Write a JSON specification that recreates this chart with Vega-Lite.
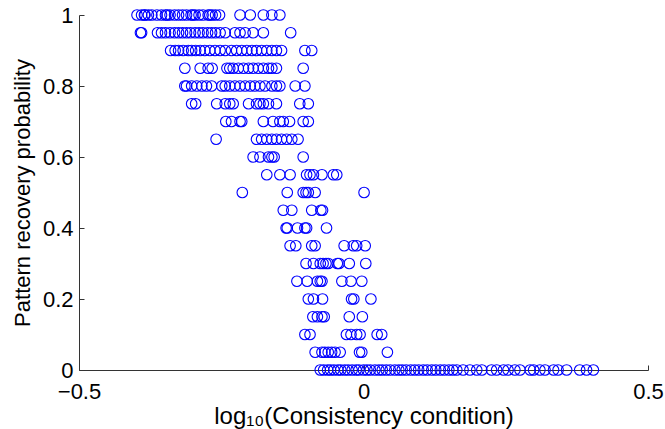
{
  "$schema": "https://vega.github.io/schema/vega-lite/v6.json",
  "width": 569,
  "height": 355,
  "autosize": {"type": "none"},
  "padding": {"left": 79, "top": 15, "right": 17, "bottom": 59},
  "background": "white",
  "config": {"view": {"stroke": null}, "font": "Liberation Sans"},
  "data": {"values": [
    {"x":-0.398,"y":1},{"x":-0.390,"y":1},{"x":-0.385,"y":1},{"x":-0.384,"y":1},{"x":-0.378,"y":1},{"x":-0.372,"y":1},{"x":-0.363,"y":1},{"x":-0.355,"y":1},{"x":-0.348,"y":1},{"x":-0.345,"y":1},{"x":-0.340,"y":1},{"x":-0.332,"y":1},{"x":-0.325,"y":1},{"x":-0.318,"y":1},{"x":-0.311,"y":1},{"x":-0.303,"y":1},{"x":-0.300,"y":1},{"x":-0.296,"y":1},{"x":-0.289,"y":1},{"x":-0.282,"y":1},{"x":-0.273,"y":1},{"x":-0.270,"y":1},{"x":-0.266,"y":1},{"x":-0.260,"y":1},{"x":-0.253,"y":1},{"x":-0.217,"y":1},{"x":-0.199,"y":1},{"x":-0.176,"y":1},{"x":-0.161,"y":1},{"x":-0.147,"y":1},
    {"x":-0.392,"y":0.95},{"x":-0.390,"y":0.95},{"x":-0.362,"y":0.95},{"x":-0.355,"y":0.95},{"x":-0.348,"y":0.95},{"x":-0.340,"y":0.95},{"x":-0.332,"y":0.95},{"x":-0.325,"y":0.95},{"x":-0.318,"y":0.95},{"x":-0.311,"y":0.95},{"x":-0.304,"y":0.95},{"x":-0.296,"y":0.95},{"x":-0.289,"y":0.95},{"x":-0.282,"y":0.95},{"x":-0.274,"y":0.95},{"x":-0.267,"y":0.95},{"x":-0.260,"y":0.95},{"x":-0.252,"y":0.95},{"x":-0.243,"y":0.95},{"x":-0.226,"y":0.95},{"x":-0.217,"y":0.95},{"x":-0.208,"y":0.95},{"x":-0.194,"y":0.95},{"x":-0.176,"y":0.95},{"x":-0.128,"y":0.95},
    {"x":-0.339,"y":0.9},{"x":-0.331,"y":0.9},{"x":-0.325,"y":0.9},{"x":-0.317,"y":0.9},{"x":-0.308,"y":0.9},{"x":-0.302,"y":0.9},{"x":-0.295,"y":0.9},{"x":-0.287,"y":0.9},{"x":-0.279,"y":0.9},{"x":-0.270,"y":0.9},{"x":-0.261,"y":0.9},{"x":-0.252,"y":0.9},{"x":-0.243,"y":0.9},{"x":-0.232,"y":0.9},{"x":-0.223,"y":0.9},{"x":-0.214,"y":0.9},{"x":-0.205,"y":0.9},{"x":-0.196,"y":0.9},{"x":-0.188,"y":0.9},{"x":-0.179,"y":0.9},{"x":-0.170,"y":0.9},{"x":-0.161,"y":0.9},{"x":-0.153,"y":0.9},{"x":-0.144,"y":0.9},{"x":-0.103,"y":0.9},{"x":-0.091,"y":0.9},
    {"x":-0.314,"y":0.85},{"x":-0.287,"y":0.85},{"x":-0.273,"y":0.85},{"x":-0.266,"y":0.85},{"x":-0.240,"y":0.85},{"x":-0.235,"y":0.85},{"x":-0.229,"y":0.85},{"x":-0.220,"y":0.85},{"x":-0.211,"y":0.85},{"x":-0.202,"y":0.85},{"x":-0.194,"y":0.85},{"x":-0.185,"y":0.85},{"x":-0.176,"y":0.85},{"x":-0.167,"y":0.85},{"x":-0.161,"y":0.85},{"x":-0.153,"y":0.85},{"x":-0.106,"y":0.85},
    {"x":-0.314,"y":0.8},{"x":-0.311,"y":0.8},{"x":-0.302,"y":0.8},{"x":-0.293,"y":0.8},{"x":-0.284,"y":0.8},{"x":-0.276,"y":0.8},{"x":-0.267,"y":0.8},{"x":-0.249,"y":0.8},{"x":-0.243,"y":0.8},{"x":-0.235,"y":0.8},{"x":-0.226,"y":0.8},{"x":-0.217,"y":0.8},{"x":-0.208,"y":0.8},{"x":-0.199,"y":0.8},{"x":-0.191,"y":0.8},{"x":-0.182,"y":0.8},{"x":-0.173,"y":0.8},{"x":-0.161,"y":0.8},{"x":-0.153,"y":0.8},{"x":-0.147,"y":0.8},{"x":-0.120,"y":0.8},{"x":-0.103,"y":0.8},
    {"x":-0.302,"y":0.75},{"x":-0.295,"y":0.75},{"x":-0.258,"y":0.75},{"x":-0.243,"y":0.75},{"x":-0.235,"y":0.75},{"x":-0.229,"y":0.75},{"x":-0.202,"y":0.75},{"x":-0.188,"y":0.75},{"x":-0.182,"y":0.75},{"x":-0.176,"y":0.75},{"x":-0.167,"y":0.75},{"x":-0.153,"y":0.75},{"x":-0.112,"y":0.75},{"x":-0.097,"y":0.75},
    {"x":-0.242,"y":0.7},{"x":-0.232,"y":0.7},{"x":-0.217,"y":0.7},{"x":-0.214,"y":0.7},{"x":-0.176,"y":0.7},{"x":-0.159,"y":0.7},{"x":-0.147,"y":0.7},{"x":-0.141,"y":0.7},{"x":-0.130,"y":0.7},{"x":-0.106,"y":0.7},{"x":-0.097,"y":0.7},
    {"x":-0.259,"y":0.65},{"x":-0.188,"y":0.65},{"x":-0.179,"y":0.65},{"x":-0.170,"y":0.65},{"x":-0.161,"y":0.65},{"x":-0.153,"y":0.65},{"x":-0.144,"y":0.65},{"x":-0.135,"y":0.65},{"x":-0.126,"y":0.65},{"x":-0.115,"y":0.65},
    {"x":-0.194,"y":0.6},{"x":-0.182,"y":0.6},{"x":-0.167,"y":0.6},{"x":-0.161,"y":0.6},{"x":-0.157,"y":0.6},{"x":-0.106,"y":0.6},
    {"x":-0.170,"y":0.55},{"x":-0.147,"y":0.55},{"x":-0.129,"y":0.55},{"x":-0.100,"y":0.55},{"x":-0.094,"y":0.55},{"x":-0.088,"y":0.55},{"x":-0.073,"y":0.55},{"x":-0.053,"y":0.55},{"x":-0.047,"y":0.55},
    {"x":-0.213,"y":0.5},{"x":-0.134,"y":0.5},{"x":-0.106,"y":0.5},{"x":-0.101,"y":0.5},{"x":-0.097,"y":0.5},{"x":-0.085,"y":0.5},{"x":0.001,"y":0.5},
    {"x":-0.141,"y":0.45},{"x":-0.126,"y":0.45},{"x":-0.091,"y":0.45},{"x":-0.075,"y":0.45},{"x":-0.072,"y":0.45},
    {"x":-0.136,"y":0.4},{"x":-0.134,"y":0.4},{"x":-0.116,"y":0.4},{"x":-0.103,"y":0.4},{"x":-0.100,"y":0.4},{"x":-0.065,"y":0.4},
    {"x":-0.129,"y":0.35},{"x":-0.119,"y":0.35},{"x":-0.091,"y":0.35},{"x":-0.085,"y":0.35},{"x":-0.034,"y":0.35},{"x":-0.018,"y":0.35},{"x":-0.012,"y":0.35},{"x":0.003,"y":0.35},
    {"x":-0.101,"y":0.3},{"x":-0.088,"y":0.3},{"x":-0.076,"y":0.3},{"x":-0.071,"y":0.3},{"x":-0.066,"y":0.3},{"x":-0.062,"y":0.3},{"x":-0.046,"y":0.3},{"x":-0.043,"y":0.3},{"x":-0.025,"y":0.3},{"x":0.004,"y":0.3},
    {"x":-0.117,"y":0.25},{"x":-0.099,"y":0.25},{"x":-0.081,"y":0.25},{"x":-0.076,"y":0.25},{"x":-0.073,"y":0.25},{"x":-0.038,"y":0.25},{"x":-0.022,"y":0.25},{"x":-0.003,"y":0.25},
    {"x":-0.097,"y":0.2},{"x":-0.088,"y":0.2},{"x":-0.072,"y":0.2},{"x":-0.021,"y":0.2},{"x":-0.017,"y":0.2},{"x":0.013,"y":0.2},
    {"x":-0.089,"y":0.15},{"x":-0.081,"y":0.15},{"x":-0.073,"y":0.15},{"x":-0.069,"y":0.15},{"x":-0.025,"y":0.15},{"x":-0.002,"y":0.15},
    {"x":-0.103,"y":0.1},{"x":-0.094,"y":0.1},{"x":-0.030,"y":0.1},{"x":-0.022,"y":0.1},{"x":-0.012,"y":0.1},{"x":-0.006,"y":0.1},{"x":0.024,"y":0.1},{"x":0.032,"y":0.1},
    {"x":-0.085,"y":0.05},{"x":-0.073,"y":0.05},{"x":-0.068,"y":0.05},{"x":-0.062,"y":0.05},{"x":-0.056,"y":0.05},{"x":-0.050,"y":0.05},{"x":-0.041,"y":0.05},{"x":-0.007,"y":0.05},{"x":-0.003,"y":0.05},{"x":0.042,"y":0.05},
    {"x":-0.076,"y":0},{"x":-0.070,"y":0},{"x":-0.063,"y":0},{"x":-0.058,"y":0},{"x":-0.052,"y":0},{"x":-0.045,"y":0},{"x":-0.040,"y":0},{"x":-0.033,"y":0},{"x":-0.027,"y":0},{"x":-0.020,"y":0},{"x":-0.013,"y":0},{"x":-0.008,"y":0},{"x":0.000,"y":0},{"x":0.006,"y":0},{"x":0.012,"y":0},{"x":0.020,"y":0},{"x":0.027,"y":0},{"x":0.033,"y":0},{"x":0.040,"y":0},{"x":0.047,"y":0},{"x":0.055,"y":0},{"x":0.062,"y":0},{"x":0.068,"y":0},{"x":0.075,"y":0},{"x":0.083,"y":0},{"x":0.090,"y":0},{"x":0.097,"y":0},{"x":0.105,"y":0},{"x":0.112,"y":0},{"x":0.120,"y":0},{"x":0.127,"y":0},{"x":0.135,"y":0},{"x":0.142,"y":0},{"x":0.150,"y":0},{"x":0.157,"y":0},{"x":0.164,"y":0},{"x":0.175,"y":0},{"x":0.187,"y":0},{"x":0.199,"y":0},{"x":0.208,"y":0},{"x":0.225,"y":0},{"x":0.234,"y":0},{"x":0.246,"y":0},{"x":0.254,"y":0},{"x":0.266,"y":0},{"x":0.275,"y":0},{"x":0.293,"y":0},{"x":0.299,"y":0},{"x":0.310,"y":0},{"x":0.319,"y":0},{"x":0.334,"y":0},{"x":0.342,"y":0},{"x":0.357,"y":0},{"x":0.380,"y":0},{"x":0.392,"y":0},{"x":0.404,"y":0}
  ]},
  "mark": {"type": "point", "shape": "circle", "filled": false, "stroke": "#0000ff", "strokeWidth": 1.1, "size": 112, "opacity": 1, "clip": false},
  "encoding": {
    "x": {
      "field": "x", "type": "quantitative",
      "scale": {"domain": [-0.5, 0.5], "nice": false, "zero": false},
      "axis": {
        "values": [-0.5, 0, 0.5], "format": "~g", "grid": false,
        "title": "log₁₀(Consistency condition)",
        "titleFont": "Liberation Sans", "titleFontSize": 24, "titleFontWeight": "normal", "titleColor": "black", "titlePadding": 2,
        "labelFont": "Liberation Sans", "labelFontSize": 22, "labelColor": "black", "labelPadding": 16,
        "tickSize": -5, "tickColor": "#333333", "domainColor": "#333333", "labelFlush": false
      }
    },
    "y": {
      "field": "y", "type": "quantitative",
      "scale": {"domain": [0, 1], "nice": false},
      "axis": {
        "values": [0, 0.2, 0.4, 0.6, 0.8, 1], "format": "~g", "grid": false,
        "title": "Pattern recovery probability",
        "titleFont": "Liberation Sans", "titleFontSize": 22, "titleFontWeight": "normal", "titleColor": "black", "titlePadding": 8,
        "labelFont": "Liberation Sans", "labelFontSize": 22, "labelColor": "black", "labelPadding": 11,
        "tickSize": -5, "tickColor": "#333333", "domainColor": "#333333", "labelFlush": false
      }
    }
  }
}
